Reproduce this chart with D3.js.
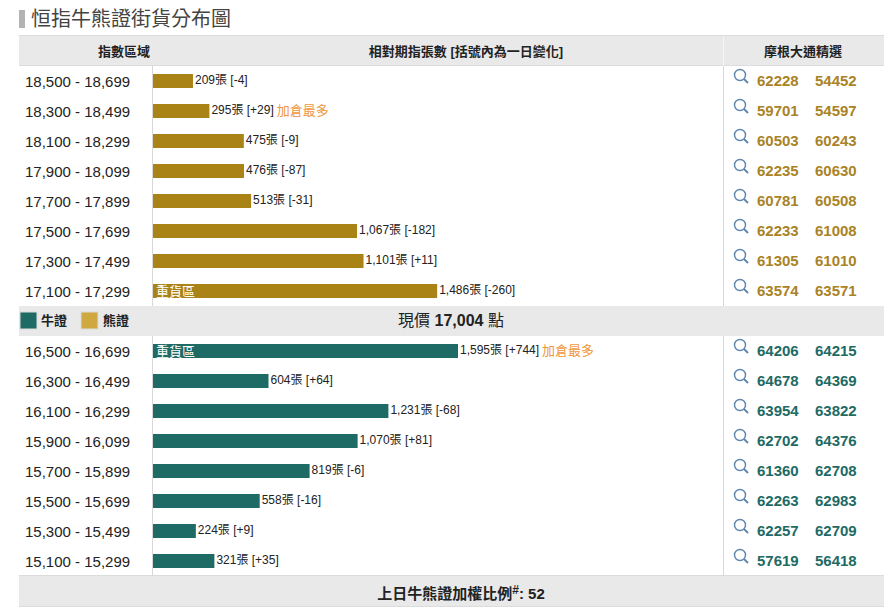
<!DOCTYPE html>
<html>
<head>
<meta charset="utf-8">
<script src="https://cdn.jsdelivr.net/npm/d3@7"></script>
<style>
  body { margin: 0; background: #fff; }
  svg { display: block; }
  text { font-family: "Liberation Sans", "Noto Sans CJK TC", sans-serif; fill: #222; }
</style>
</head>
<body>
<div id="chart"></div>
<script>
// bear side, top to bottom
var bearRanges = ["18,500 - 18,699", "18,300 - 18,499", "18,100 - 18,299", "17,900 - 18,099", "17,700 - 17,899", "17,500 - 17,699", "17,300 - 17,499", "17,100 - 17,299"];
var bearValues = [209, 295, 475, 476, 513, 1067, 1101, 1486];
var bearChanges = ["-4", "+29", "-9", "-87", "-31", "-182", "+11", "-260"];
var bearCodes1 = ["62228", "59701", "60503", "62235", "60781", "62233", "61305", "63574"];
var bearCodes2 = ["54452", "54597", "60243", "60630", "60508", "61008", "61010", "63571"];

// bull side
var bullRanges = ["16,500 - 16,699", "16,300 - 16,499", "16,100 - 16,299", "15,900 - 16,099", "15,700 - 15,899", "15,500 - 15,699", "15,300 - 15,499", "15,100 - 15,299"];
var bullValues = [1595, 604, 1231, 1070, 819, 558, 224, 321];
var bullChanges = ["+744", "+64", "-68", "+81", "-6", "-16", "+9", "+35"];
var bullCodes1 = ["64206", "64678", "63954", "62702", "61360", "62263", "62257", "57619"];
var bullCodes2 = ["64215", "64369", "63822", "64376", "62708", "62983", "62709", "56418"];

var mostAdded = "加倉最多";
var heavyZone = "重貨區";
var bearBar = "#a98316", bullBar = "#1e6a64", bearKey = "#cfa93f", codeBear = "#a98326";

var width = 894, height = 616;
var svg = d3.select("#chart").append("svg").attr("width", width).attr("height", height);

var x = d3.scaleLinear().domain([0, 1595]).range([153, 458]);
var yBear = d3.scaleBand().domain(bearRanges).range([66, 306]);
var yBull = d3.scaleBand().domain(bullRanges).range([336, 576]);

//title
svg.append("rect").attr("x", 19).attr("y", 10).attr("width", 6).attr("height", 18).attr("fill", "#b3b3b3");
svg.append("text").attr("x", 31).attr("y", 26).attr("font-size", 20).style("fill", "#444").text("恒指牛熊證街貨分布圖");

//grey bands
[[36, 30], [306, 30], [576, 30]].forEach(function (b) {
  svg.append("rect").attr("x", 19).attr("y", b[0]).attr("width", 865).attr("height", b[1]).attr("fill", "#e9e9e9");
});
[35.5, 65.5, 575.5, 606.5].forEach(function (py) {
  svg.append("line").attr("x1", 19).attr("x2", 884).attr("y1", py).attr("y2", py).attr("stroke", "#dcdcdc");
});

//column dividers
[[66, 306], [336, 576]].forEach(function (s) {
  [152.5, 723.5].forEach(function (px) {
    svg.append("line").attr("x1", px).attr("x2", px).attr("y1", s[0]).attr("y2", s[1]).attr("stroke", "#d8d8d8");
  });
});
svg.append("line").attr("x1", 723.5).attr("x2", 723.5).attr("y1", 36).attr("y2", 66).attr("stroke", "#f6f6f6");

//header
var headers = [["指數區域", 124], ["相對期指張數 [括號內為一日變化]", 466], ["摩根大通精選", 803]];
headers.forEach(function (h) {
  svg.append("text").attr("x", h[1]).attr("y", 56).attr("text-anchor", "middle")
    .attr("font-size", 13).attr("font-weight", "bold").text(h[0]);
});

function drawRows(ranges, values, changes, codes1, codes2, y, barColor, codeColor) {
  var rows = svg.append("g").selectAll("g").data(ranges).enter().append("g")
    .attr("transform", function (d) { return "translate(0," + (y(d) + y.bandwidth() / 2) + ")"; });

  rows.append("text").attr("x", 25).attr("y", 6).attr("font-size", 15).text(function (d) { return d; });

  rows.append("rect").attr("x", x(0)).attr("y", -7).attr("height", 14)
    .attr("width", function (d, i) { return x(values[i]) - x(0); })
    .attr("fill", barColor);

  rows.append("text").attr("x", function (d, i) { return x(values[i]) + 2; }).attr("y", 3)
    .attr("font-size", 12)
    .text(function (d, i) { return d3.format(",")(values[i]) + "張 [" + changes[i] + "]"; })
    .each(function (d, i) {
      // most added tag sits right after the label, on the row with the biggest rise
      var best = d3.max(changes, function (c) { return +c; });
      if (+changes[i] === best) {
        rows.filter(function (r) { return r === d; }).append("text")
          .attr("x", x(values[i]) + 2 + this.getComputedTextLength() + 3).attr("y", 4)
          .attr("font-size", 13).style("fill", "#f0963c").text(mostAdded);
      }
      if (values[i] === d3.max(values)) {
        rows.filter(function (r) { return r === d; }).append("text")
          .attr("x", x(0) + 3).attr("y", 5).attr("font-size", 13)
          .style("fill", "#fff").text(heavyZone);
      }
    });

  //magnifier icon
  var icon = rows.append("g").attr("transform", "translate(740,-6)")
    .attr("fill", "none").attr("stroke", "#5b84ad");
  icon.append("circle").attr("r", 5.5).attr("stroke-width", 1.4);
  icon.append("line").attr("x1", 4).attr("y1", 4).attr("x2", 8).attr("y2", 8).attr("stroke-width", 1.8);

  rows.append("text").attr("x", 757).attr("y", 5).attr("font-size", 15).attr("font-weight", "bold")
    .style("fill", codeColor).text(function (d, i) { return codes1[i]; });
  rows.append("text").attr("x", 815).attr("y", 5).attr("font-size", 15).attr("font-weight", "bold")
    .style("fill", codeColor).text(function (d, i) { return codes2[i]; });
}

drawRows(bearRanges, bearValues, bearChanges, bearCodes1, bearCodes2, yBear, bearBar, codeBear);
drawRows(bullRanges, bullValues, bullChanges, bullCodes1, bullCodes2, yBull, bullBar, bullBar);

//legend in the middle band
svg.append("rect").attr("x", 20).attr("y", 312).attr("width", 17).attr("height", 17).attr("fill", bullBar).attr("stroke", "#dcdcdc");
svg.append("text").attr("x", 41).attr("y", 325).attr("font-size", 13).attr("font-weight", "bold").text("牛證");
svg.append("rect").attr("x", 81).attr("y", 312).attr("width", 17).attr("height", 17).attr("fill", bearKey).attr("stroke", "#dcdcdc");
svg.append("text").attr("x", 103).attr("y", 325).attr("font-size", 13).attr("font-weight", "bold").text("熊證");

//current price
var price = svg.append("text").attr("x", 451).attr("y", 326).attr("text-anchor", "middle").attr("font-size", 16);
price.append("tspan").text("現價 ");
price.append("tspan").attr("font-weight", "bold").text("17,004");
price.append("tspan").text(" 點");

//footer
var foot = svg.append("text").attr("x", 461).attr("y", 599).attr("text-anchor", "middle")
  .attr("font-size", 15).attr("font-weight", "bold");
foot.append("tspan").text("上日牛熊證加權比例");
foot.append("tspan").attr("font-size", 12).attr("dy", -5).text("#");
foot.append("tspan").attr("dy", 5).text(": 52");
</script>
</body>
</html>
